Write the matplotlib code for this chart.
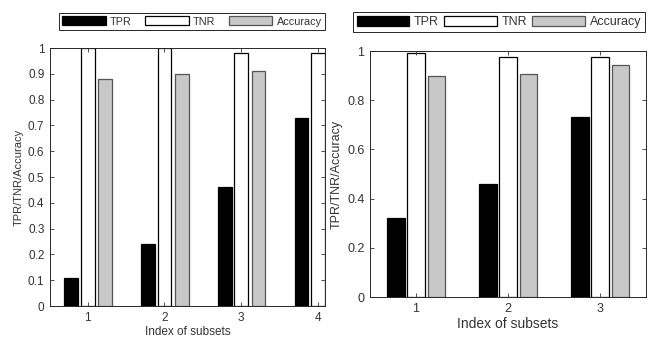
import matplotlib.pyplot as plt
import numpy as np

plt.rcParams['font.family'] = ['Liberation Sans', 'DejaVu Sans']

# left panel: four subsets
idx_a = [1, 2, 3, 4]
tpr_a = [0.11, 0.24, 0.46, 0.73]
tnr_a = [1.0, 1.0, 0.98, 0.98]
acc_a = [0.88, 0.90, 0.91, np.nan]  # 4th accuracy bar lies outside the plot

# right panel: three subsets
idx_b = [1, 2, 3]
tpr_b = [0.32, 0.46, 0.73]
tnr_b = [0.99, 0.975, 0.975]
acc_b = [0.90, 0.905, 0.945]

series_names = ['TPR', 'TNR', 'Accuracy']
face = ['black', 'white', '#c8c8c8']
edge = ['black', 'black', '#555555']

fig = plt.figure(figsize=(6.5, 3.41), dpi=100)


def draw(ax, idx, vals, width, yticks, ticksize, labsize, xlabsize):
    x = np.array(idx, dtype=float)
    offs = [-0.215, 0.0, 0.225]
    for v, o, fc, ec, name in zip(vals, offs, face, edge, series_names):
        ax.bar(x + o, v, width=width, color=fc, edgecolor=ec, linewidth=0.9, label=name)
    ax.set_xticks(idx)
    ax.set_yticks(yticks)
    ax.set_yticklabels(['%g' % t for t in yticks])
    ax.tick_params(direction='in', length=3, top=True, right=True, pad=4,
                   labelsize=ticksize, colors='#333333', width=0.6)
    for s in ax.spines.values():
        s.set_color('#262626')
        s.set_linewidth(0.7)
    ax.set_ylabel('TPR/TNR/Accuracy', fontsize=labsize, color='#333333', labelpad=3)
    ax.set_xlabel('Index of subsets', fontsize=xlabsize, color='#333333', labelpad=2)


def add_legend(ax, box, size, hl):
    leg = ax.legend(loc='center', bbox_to_anchor=box, bbox_transform=fig.transFigure,
                    mode='expand', ncol=3, fontsize=size, handlelength=hl,
                    handleheight=0.9, handletextpad=0.4, columnspacing=0.3,
                    borderaxespad=0, borderpad=0.3, fancybox=False,
                    edgecolor='#262626', framealpha=1)
    leg.get_frame().set_linewidth(0.7)
    for t in leg.get_texts():
        t.set_color('#333333')


ax1 = fig.add_axes([0.0769, 0.1026, 0.4231, 0.7566])
draw(ax1, idx_a, [tpr_a, tnr_a, acc_a], 0.18, np.round(np.arange(0, 1.01, 0.1), 1), 8.5, 8, 8.5)
ax1.set_xlim(0.51, 4.09)
ax1.set_ylim(0, 1)
add_legend(ax1, (0.0908, 0.903, 0.409, 0.0674), 7.8, 4.0)

ax2 = fig.add_axes([0.5692, 0.1290, 0.4246, 0.7214])
draw(ax2, idx_b, [tpr_b, tnr_b, acc_b], 0.19, [0, 0.2, 0.4, 0.6, 0.8, 1], 9, 9, 10)
ax2.set_xlim(0.5, 3.5)
ax2.set_ylim(0, 1)
add_legend(ax2, (0.543, 0.900, 0.449, 0.0704), 9, 4.2)

fig.savefig('out.png', dpi=100)
